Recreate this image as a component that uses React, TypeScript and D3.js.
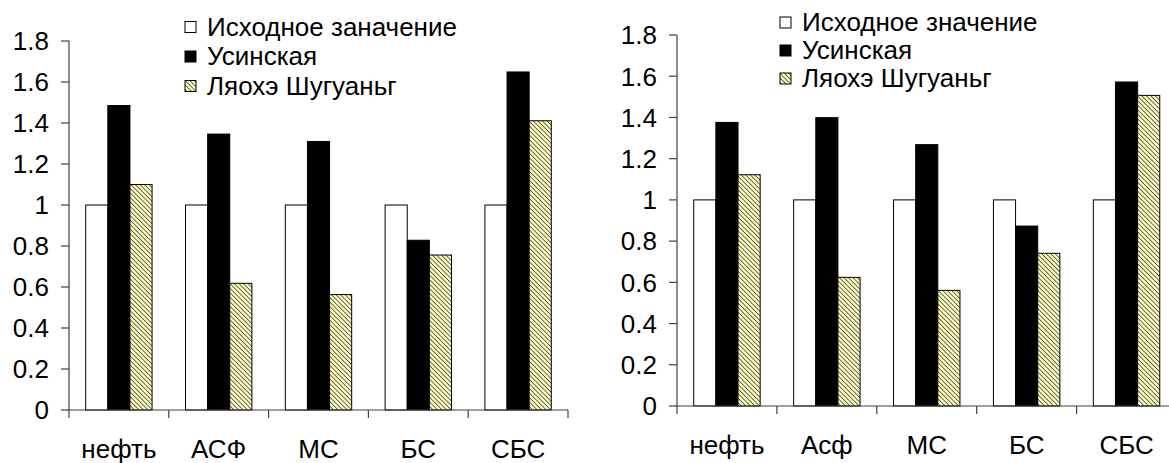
import React from "react";
import * as d3 from "d3";

// Two grouped bar charts: relative change of fractions after treatment
const categoriesLeft = ["нефть", "АСФ", "МС", "БС", "СБС"];
const categoriesRight = ["нефть", "Асф", "МС", "БС", "СБС"];

const seriesKeys = ["initial", "usinsk", "liaohe"];
const legendLeft = ["Исходное заначение", "Усинская", "Ляохэ Шугуаньг"];
const legendRight = ["Исходное значение", "Усинская", "Ляохэ Шугуаньг"];

const initialLeft = [1, 1, 1, 1, 1];
const usinskLeft = [1.485, 1.346, 1.31, 0.828, 1.649];
const liaoheLeft = [1.1, 0.618, 0.563, 0.756, 1.411];

const initialRight = [1, 1, 1, 1, 1];
const usinskRight = [1.376, 1.399, 1.268, 0.873, 1.572];
const liaoheRight = [1.122, 0.624, 0.561, 0.741, 1.507];

const yTicks = [0, 0.2, 0.4, 0.6, 0.8, 1, 1.2, 1.4, 1.6, 1.8];

const FONT = "'Liberation Sans', Arial, sans-serif";
const AXIS = "#404040";

type PanelProps = {
  cats: string[];
  values: number[][];
  legend: string[];
  x0: number;
  x1: number;
  y0: number;
  y1: number;
  legendX: number;
  legendY: number;
  legendStep: number;
};

function fillFor(i: number) {
  if (i === 0) return "#ffffff";
  if (i === 1) return "#000000";
  return "url(#hatch)";
}

function Panel(p: PanelProps) {
  const x = d3.scaleBand<string>().domain(p.cats).range([p.x0, p.x1]).padding(0);
  const step = x.step();
  const groupW = step * 0.665;
  const xs = d3
    .scaleBand<string>()
    .domain(seriesKeys)
    .range([(step - groupW) / 2, (step + groupW) / 2])
    .padding(0);
  const y = d3.scaleLinear().domain([0, 1.8]).range([p.y0, p.y1]);
  const fmt = (d: number) => String(Math.round(d * 10) / 10);

  return (
    <g>
      {/* bars */}
      {p.cats.map((c, ci) =>
        seriesKeys.map((k, si) => {
          const v = p.values[si][ci];
          const bx = (x(c) as number) + (xs(k) as number);
          return (
            <rect
              key={c + k}
              x={bx}
              y={y(v)}
              width={xs.bandwidth()}
              height={y(0) - y(v)}
              fill={fillFor(si)}
              stroke="#000"
              strokeWidth={1}
            />
          );
        })
      )}
      {/* y axis */}
      <line x1={p.x0} x2={p.x0} y1={y(0)} y2={y(1.8)} stroke={AXIS} strokeWidth={1.2} />
      {yTicks.map((t) => (
        <g key={t}>
          <line x1={p.x0 - 8} x2={p.x0} y1={y(t)} y2={y(t)} stroke={AXIS} strokeWidth={1.2} />
          <text
            x={p.x0 - 20}
            y={y(t)}
            dy="0.36em"
            textAnchor="end"
            fontFamily={FONT}
            fontSize={26}
            fill="#000"
          >
            {fmt(t)}
          </text>
        </g>
      ))}
      {/* x axis */}
      <line x1={p.x0} x2={p.x1} y1={y(0)} y2={y(0)} stroke={AXIS} strokeWidth={1.2} />
      {d3.range(p.cats.length + 1).map((i) => {
        const tx = p.x0 + i * step;
        return (
          <line key={i} x1={tx} x2={tx} y1={y(0)} y2={y(0) + 8} stroke={AXIS} strokeWidth={1.2} />
        );
      })}
      {p.cats.map((c) => (
        <text
          key={c}
          x={(x(c) as number) + step / 2}
          y={y(0) + 48}
          textAnchor="middle"
          fontFamily={FONT}
          fontSize={26}
          fill="#000"
        >
          {c}
        </text>
      ))}
      {/* legend */}
      {p.legend.map((name, i) => {
        const by = p.legendY + i * p.legendStep;
        return (
          <g key={name}>
            <rect
              x={p.legendX}
              y={by - 14}
              width={11}
              height={11}
              fill={fillFor(i)}
              stroke="#000"
              strokeWidth={1}
            />
            <text x={p.legendX + 22} y={by} fontFamily={FONT} fontSize={26} fill="#000">
              {name}
            </text>
          </g>
        );
      })}
    </g>
  );
}

export default function App() {
  return (
    <svg
      width={1169}
      height={463}
      style={{ position: "absolute", left: 0, top: 0, background: "#fff" }}
    >
      <defs>
        <pattern
          id="hatch"
          patternUnits="userSpaceOnUse"
          width={3.2}
          height={3.2}
          patternTransform="rotate(-45)"
        >
          <rect width={3.2} height={3.2} fill="#fbfbbf" />
          <line x1={0} y1={0} x2={0} y2={3.2} stroke="#111" strokeWidth={1.2} />
        </pattern>
      </defs>
      <rect width={1169} height={463} fill="#fff" />
      <Panel
        cats={categoriesLeft}
        values={[initialLeft, usinskLeft, liaoheLeft]}
        legend={legendLeft}
        x0={69}
        x1={568}
        y0={410}
        y1={41}
        legendX={185}
        legendY={35.5}
        legendStep={29.5}
      />
      <Panel
        cats={categoriesRight}
        values={[initialRight, usinskRight, liaoheRight]}
        legend={legendRight}
        x0={677}
        x1={1176.5}
        y0={406}
        y1={35}
        legendX={780}
        legendY={31}
        legendStep={28}
      />
    </svg>
  );
}
